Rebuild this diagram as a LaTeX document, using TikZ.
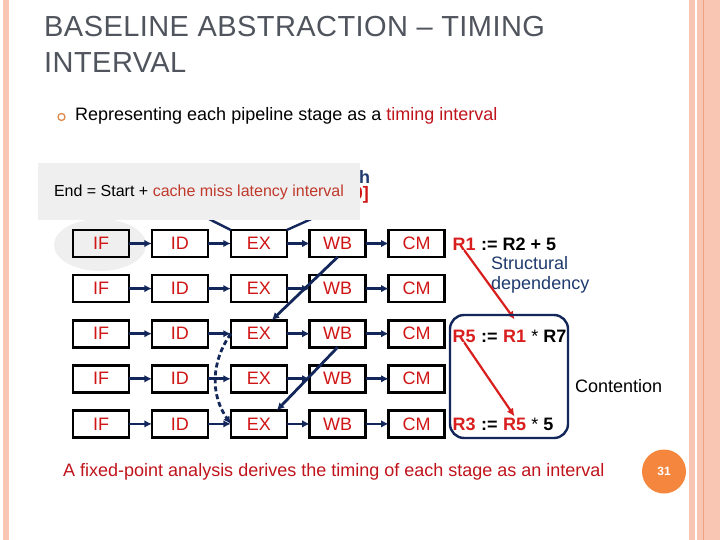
\documentclass[tikz,border=0pt]{standalone}
\usepackage{fontspec}
\setmainfont{Liberation Sans}
\newfontfamily\titlefont[LetterSpace=1.5]{Liberation Sans}
\usetikzlibrary{arrows.meta,positioning}
\definecolor{slidenavy}{HTML}{13275A}
\definecolor{labelnavy}{HTML}{1F3A6E}
\definecolor{boxred}{HTML}{D01515}
\definecolor{notered}{HTML}{C0392B}
\definecolor{textred}{HTML}{C0141C}
\definecolor{hazardred}{HTML}{D91E1E}
\definecolor{titlegrey}{HTML}{4F545D}
\definecolor{sliderose}{HTML}{F8C6B2}
\definecolor{rosedark}{HTML}{EFA283}
\definecolor{pageorange}{HTML}{F5863D}
\definecolor{bulletorange}{HTML}{DE8A4E}
\definecolor{calloutgrey}{HTML}{EFEFEF}
\newcommand{\slidefont}[1]{\fontsize{#1}{#1}\selectfont}
\tikzset{
  stagebox/.style={
    draw=black,
    line width=2.6pt,
    outer sep=0pt,
    inner sep=0pt,
    minimum width=56pt,
    minimum height=27pt,
    text=boxred,
    font=\slidefont{18}
  },
  flow/.style={
    -{Latex[length=7.5pt,width=7.5pt]},
    line width=2.8pt,
    draw=slidenavy
  },
  hazard/.style={
    -{Latex[length=8pt,width=7.5pt]},
    line width=2.2pt,
    draw=hazardred
  },
  regtext/.style={
    anchor=base west,
    inner sep=0pt,
    font=\slidefont{18}\bfseries
  },
  plaintext/.style={
    anchor=base west,
    inner sep=0pt,
    font=\slidefont{18}
  },
  contbox/.style={
    draw=slidenavy,
    line width=2.4pt,
    rounded corners=14pt,
    minimum width=118pt,
    minimum height=123pt
  }
}

\begin{document}
\begin{tikzpicture}[x=1pt, y=-1pt, node distance=18.1pt and 22.9pt]
\fill[white] (0,0) rectangle (720,540);
\useasboundingbox (0,0) rectangle (720,540);
% slide frame
\fill[sliderose] (3,0) rectangle (9,540);
\fill[sliderose] (689,0) rectangle (694.5,540);
\fill[sliderose] (697,0) rectangle (720,540);
\draw[rosedark, line width=1pt] (703.5,0) -- (703.5,540);
% heading and bullet
\node[anchor=north west, inner sep=0pt, align=left, text=titlegrey,
  font=\titlefont\fontsize{29}{36}\selectfont] (title) at (44,16)
  {BASELINE ABSTRACTION – TIMING\\INTERVAL};
\node[circle, draw=bulletorange, line width=1.3pt, minimum size=7pt, inner sep=0pt] (dot) at (61.5,117) {};
\node[plaintext] (point) at (75,121) {Representing each pipeline stage as a \textcolor{textred}{timing interval}};
% bubble behind the first stage
\fill[calloutgrey] (100,245) ellipse [x radius=46, y radius=26];
% pipeline grid
\node[stagebox] (if1) at (101,243.5) {IF};
\node[stagebox, right=of if1] (id1) {ID};
\node[stagebox, right=of id1] (ex1) {EX};
\node[stagebox, right=of ex1] (wb1) {WB};
\node[stagebox, right=of wb1] (cm1) {CM};
\node[stagebox, below=of if1] (if2) {IF};
\node[stagebox, right=of if2] (id2) {ID};
\node[stagebox, right=of id2] (ex2) {EX};
\node[stagebox, right=of ex2] (wb2) {WB};
\node[stagebox, right=of wb2] (cm2) {CM};
\node[stagebox, below=of if2] (if3) {IF};
\node[stagebox, right=of if3] (id3) {ID};
\node[stagebox, right=of id3] (ex3) {EX};
\node[stagebox, right=of ex3] (wb3) {WB};
\node[stagebox, right=of wb3] (cm3) {CM};
\node[stagebox, below=of if3] (if4) {IF};
\node[stagebox, right=of if4] (id4) {ID};
\node[stagebox, right=of id4] (ex4) {EX};
\node[stagebox, right=of ex4] (wb4) {WB};
\node[stagebox, right=of wb4] (cm4) {CM};
\node[stagebox, below=of if4] (if5) {IF};
\node[stagebox, right=of if5] (id5) {ID};
\node[stagebox, right=of id5] (ex5) {EX};
\node[stagebox, right=of ex5] (wb5) {WB};
\node[stagebox, right=of wb5] (cm5) {CM};
\draw[flow] (if1) -- (id1);
\draw[flow] (id1) -- (ex1);
\draw[flow] (ex1) -- (wb1);
\draw[flow] (wb1) -- (cm1);
\draw[flow] (if2) -- (id2);
\draw[flow] (id2) -- (ex2);
\draw[flow] (ex2) -- (wb2);
\draw[flow] (wb2) -- (cm2);
\draw[flow] (if3) -- (id3);
\draw[flow] (id3) -- (ex3);
\draw[flow] (ex3) -- (wb3);
\draw[flow] (wb3) -- (cm3);
\draw[flow] (if4) -- (id4);
\draw[flow] (id4) -- (ex4);
\draw[flow] (ex4) -- (wb4);
\draw[flow] (wb4) -- (cm4);
\draw[flow] (if5) -- (id5);
\draw[flow] (id5) -- (ex5);
\draw[flow] (ex5) -- (wb5);
\draw[flow] (wb5) -- (cm5);
\draw[flow] (wb1.south) -- ([xshift=13pt]ex3.north);
\draw[flow] (wb3.south) -- ([xshift=18pt]ex5.north);
\draw[flow, dash pattern=on 5pt off 3pt] (ex3.west) to[bend right=35] (ex5.west);
% callout over the first row
\coordinate (tail1) at (203,216);
\coordinate (tail2) at (318,216);
\draw[slidenavy, line width=2.4pt] (tail1) -- (ex1.north west);
\draw[slidenavy, line width=2.4pt] (tail2) -- (ex1.north east);
\node[regtext, text=labelnavy] (hidden1) at (359,184) {h};
\node[regtext, anchor=base east, text=boxred] (hidden2) at (369,200) {0]};
\node[fill=calloutgrey, minimum width=322pt, minimum height=57pt, inner sep=0pt,
  font=\slidefont{16}] (note) at (199,192)
  {End = Start + \textcolor{notered}{cache miss latency interval}};
% instructions
\node[regtext, text=hazardred] (r1def) at (452.5,250) {R1};
\node[regtext] (r1rest) at (r1def.base east) {\ := R2 + 5};
\node[regtext, text=hazardred] (r5def) at (452.5,342) {R5};
\node[regtext] (r5mid) at (r5def.base east) {\ :=\kern0.28em};
\node[regtext, text=hazardred] (r1use) at (r5mid.base east) {R1};
\node[regtext] (r5rest) at (r1use.base east) {\ \textmd{*} R7};
\node[regtext, text=hazardred] (r3def) at (452.5,430) {R3};
\node[regtext] (r3mid) at (r3def.base east) {\ :=\kern0.28em};
\node[regtext, text=hazardred] (r5use) at (r3mid.base east) {R5};
\node[regtext] (r3rest) at (r5use.base east) {\ \textmd{*} 5};
\node[anchor=north west, inner sep=0pt, align=left, text=labelnavy,
  font=\fontsize{18}{20}\selectfont] (struct) at (491,256.5) {Structural\\dependency};
\draw[hazard] (r1def.south) -- ([yshift=10pt]r1use.north);
\draw[hazard] (r5def.south) -- ([yshift=1pt]r5use.north);
\node[contbox] (group) at (509,376.5) {};
\node[plaintext] (contention) at (575,392) {Contention};
% footer
\node[plaintext, text=textred] (summary) at (63,476) {A fixed-point analysis derives the timing of each stage as an interval};
\node[circle, fill=pageorange, minimum size=44pt, inner sep=0pt, text=white,
  font=\slidefont{12}\bfseries] (page) at (664,471.5) {31};
\end{tikzpicture}
\end{document}
